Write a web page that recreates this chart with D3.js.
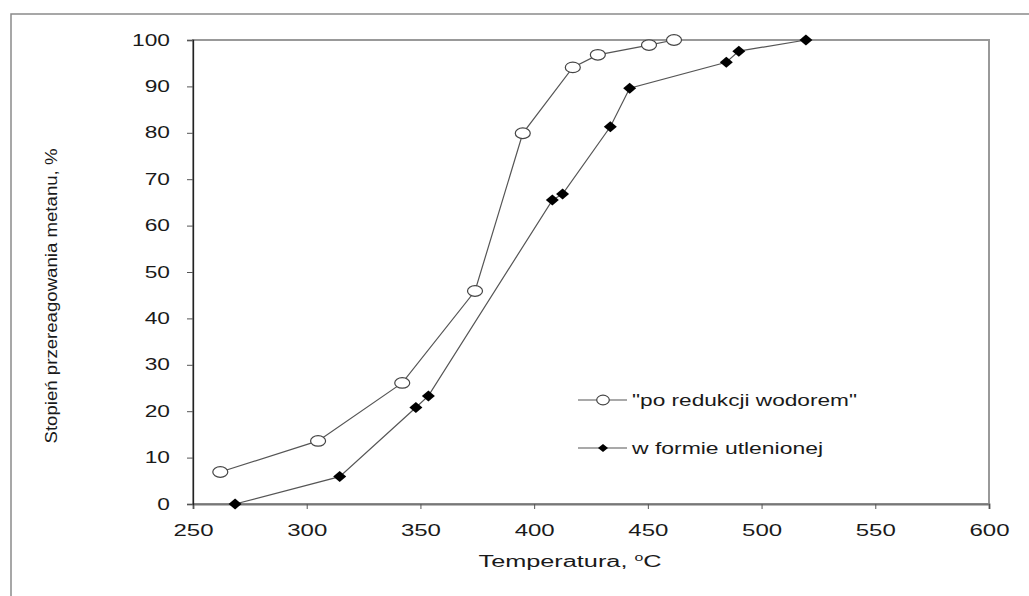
<!DOCTYPE html>
<html>
<head>
<meta charset="utf-8">
<script src="https://cdn.jsdelivr.net/npm/d3@7/dist/d3.min.js"></script>
<style>
  body { margin: 0; background: #fff; }
  svg text { font-family: "Liberation Sans", Arial, sans-serif; fill: #1a1a1a; }
</style>
</head>
<body>
<svg width="1029" height="596"></svg>
<script>
// dane
const tempReduced = [262, 305, 342, 374, 395, 417, 428, 450.5, 461.5];
const convReduced = [6.9, 13.6, 26.1, 45.9, 79.9, 94.1, 96.8, 98.9, 100];
const tempOxid = [268.5, 314.5, 348, 353.5, 408, 412.5, 433.5, 442, 484.5, 490, 519.5];
const convOxid = [0, 5.9, 20.8, 23.3, 65.5, 66.8, 81.3, 89.6, 95.2, 97.6, 100];
const xTicks = [250, 300, 350, 400, 450, 500, 550, 600];
const yTicks = [0, 10, 20, 30, 40, 50, 60, 70, 80, 90, 100];
const legendLabels = ['"po redukcji wodorem"', "w formie utlenionej"];

const svg = d3.select("svg");
const plot = { left: 193, top: 40, right: 989, bottom: 504 };

// tekst w oryginale jest szerszy - rozciagamy go w poziomie
// (kotwica "start" liczona recznie, zeby rozciagniecie nie przesuwalo etykiet)
function widen(sel, k, anchor, offset) {
  sel.each(function () {
    const w = this.getComputedTextLength() * k;
    const t = d3.select(this);
    const x0 = anchor === "end" ? offset - w : offset - w / 2;
    t.attr("text-anchor", "start").attr("x", x0)
      .attr("textLength", w).attr("lengthAdjust", "spacingAndGlyphs");
  });
}

// ramka zewnetrzna
svg.append("path")
  .attr("d", "M11,596 L11,14 L1029,14")
  .attr("fill", "none").attr("stroke", "#8a8a8a").attr("stroke-width", 1.5);

const x = d3.scaleLinear().domain([250, 600]).range([plot.left, plot.right]);
const y = d3.scaleLinear().domain([0, 100]).range([plot.bottom, plot.top]);

// obramowanie obszaru wykresu
svg.append("rect")
  .attr("x", plot.left).attr("y", plot.top)
  .attr("width", plot.right - plot.left).attr("height", plot.bottom - plot.top)
  .attr("fill", "none").attr("stroke", "#999").attr("stroke-width", 2);

const xAxis = svg.append("g")
  .attr("transform", `translate(0,${plot.bottom})`)
  .call(d3.axisBottom(x).tickValues(xTicks).tickSize(5).tickPadding(16));
xAxis.select(".domain").attr("stroke", "#777").attr("stroke-width", 2);
xAxis.selectAll(".tick line").attr("stroke", "#555");
xAxis.selectAll("text").style("font-size", "16px").call(widen, 1.5, "middle", 0);

const yAxis = svg.append("g")
  .attr("transform", `translate(${plot.left},0)`)
  .call(d3.axisLeft(y).tickValues(yTicks).tickSize(6).tickPadding(17));
yAxis.select(".domain").attr("stroke", "#222").attr("stroke-width", 1.3);
yAxis.selectAll(".tick line").attr("stroke", "#555");
yAxis.selectAll("text").style("font-size", "16px").call(widen, 1.42, "end", -23);

// tytuly osi
const xt = svg.append("text")
  .attr("x", 570).attr("y", 567)
  .attr("text-anchor", "middle")
  .style("font-size", "16px");
xt.append("tspan").text("Temperatura, ");
xt.append("tspan").attr("dy", -6).style("font-size", "10px").text("o");
xt.append("tspan").attr("dy", 6).text("C");
xt.attr("textLength", 183).attr("lengthAdjust", "spacingAndGlyphs");

svg.append("text")
  .attr("transform", "translate(57,296) rotate(-90)")
  .attr("text-anchor", "middle")
  .style("font-size", "16px")
  .attr("textLength", 295).attr("lengthAdjust", "spacingAndGlyphs")
  .text("Stopień przereagowania metanu, %");

// serie
const reduced = tempReduced.map((t, i) => [t, convReduced[i]]);
const oxid = tempOxid.map((t, i) => [t, convOxid[i]]);
const line = d3.line().x(d => x(d[0])).y(d => y(d[1]));

svg.append("path").datum(oxid)
  .attr("d", line).attr("fill", "none").attr("stroke", "#555").attr("stroke-width", 1.2);
svg.append("path").datum(reduced)
  .attr("d", line).attr("fill", "none").attr("stroke", "#555").attr("stroke-width", 1.2);

function diamond(cx, cy, w, h) {
  return `M${cx},${cy - h} L${cx + w},${cy} L${cx},${cy + h} L${cx - w},${cy} Z`;
}

svg.append("g").selectAll("path").data(oxid).join("path")
  .attr("d", d => diamond(x(d[0]), y(d[1]), 6.5, 5.5))
  .attr("fill", "#000");

svg.append("g").selectAll("ellipse").data(reduced).join("ellipse")
  .attr("cx", d => x(d[0])).attr("cy", d => y(d[1]))
  .attr("rx", 7.5).attr("ry", 5.3)
  .attr("fill", "#fff").attr("stroke", "#444").attr("stroke-width", 1.2);

// legenda
const legend = svg.append("g");
const rows = [400, 448];
legendLabels.forEach((lab, i) => {
  const cy = rows[i];
  legend.append("line")
    .attr("x1", 578).attr("x2", 627).attr("y1", cy).attr("y2", cy)
    .attr("stroke", "#555").attr("stroke-width", 1.2);
  if (i === 0) {
    legend.append("ellipse").attr("cx", 603).attr("cy", cy)
      .attr("rx", 6.3).attr("ry", 4.8)
      .attr("fill", "#fff").attr("stroke", "#444").attr("stroke-width", 1.2);
  } else {
    legend.append("path").attr("d", diamond(603, cy, 5, 4)).attr("fill", "#000");
  }
  legend.append("text")
    .attr("x", 632).attr("y", cy + 5.5)
    .style("font-size", "16px")
    .attr("textLength", i === 0 ? 225 : 191).attr("lengthAdjust", "spacingAndGlyphs")
    .text(lab);
});
</script>
</body>
</html>
